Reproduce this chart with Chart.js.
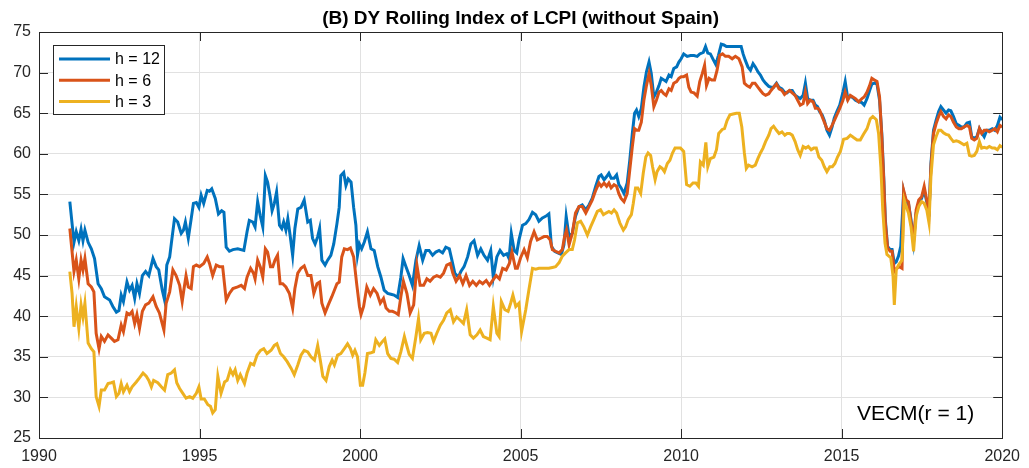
<!DOCTYPE html>
<html lang="en">
<head>
    <meta charset="UTF-8">
    <title>DY Rolling Index of LCPI</title>
    <script src="https://cdn.jsdelivr.net/npm/chart.js@4.4.1/dist/chart.umd.min.js"></script>
    <style>
        html, body { margin: 0; padding: 0; background: #ffffff; }
        #wrap { width: 1029px; height: 468px; }
    </style>
</head>
<body>
<div id="wrap"><canvas id="dy_chart" width="1029" height="468"></canvas></div>
<script>
    // values (decimal years)
    const h12Dates = [
        1990.96, 1991.09, 1991.16, 1991.24, 1991.31, 1991.37, 1991.43, 1991.53, 1991.63, 1991.73,
        1991.84, 1991.94, 1992.04, 1992.20, 1992.30, 1992.41, 1992.49, 1992.56, 1992.63, 1992.74,
        1992.82, 1992.90, 1992.98, 1993.05, 1993.13, 1993.22, 1993.32, 1993.42, 1993.55, 1993.65,
        1993.73, 1993.84, 1993.91, 1993.98, 1994.07, 1994.12, 1994.22, 1994.32, 1994.43, 1994.50,
        1994.56, 1994.65, 1994.74, 1994.81, 1994.90, 1994.98, 1995.05, 1995.13, 1995.24, 1995.31,
        1995.38, 1995.49, 1995.59, 1995.69, 1995.76, 1995.83, 1995.93, 1996.04, 1996.19, 1996.38,
        1996.48, 1996.55, 1996.66, 1996.73, 1996.81, 1996.89, 1996.97, 1997.05, 1997.12, 1997.20,
        1997.26, 1997.33, 1997.40, 1997.49, 1997.56, 1997.62, 1997.69, 1997.75, 1997.82, 1997.90,
        1997.97, 1998.06, 1998.16, 1998.26, 1998.37, 1998.45, 1998.52, 1998.60, 1998.68, 1998.74,
        1998.81, 1998.91, 1998.99, 1999.09, 1999.18, 1999.28, 1999.35, 1999.40, 1999.49, 1999.56,
        1999.63, 1999.72, 1999.80, 1999.87, 1999.92, 1999.98, 2000.05, 2000.13, 2000.23, 2000.34,
        2000.44, 2000.55, 2000.65, 2000.75, 2000.86, 2000.96, 2001.06, 2001.17, 2001.27, 2001.34,
        2001.43, 2001.53, 2001.63, 2001.74, 2001.84, 2001.95, 2002.05, 2002.15, 2002.26, 2002.36,
        2002.46, 2002.57, 2002.67, 2002.78, 2002.85, 2002.95, 2003.06, 2003.14, 2003.24, 2003.35,
        2003.45, 2003.55, 2003.66, 2003.76, 2003.86, 2003.97, 2004.07, 2004.15, 2004.26, 2004.36,
        2004.47, 2004.57, 2004.64, 2004.71, 2004.80, 2004.88, 2004.95, 2005.06, 2005.16, 2005.26,
        2005.37, 2005.47, 2005.57, 2005.68, 2005.78, 2005.88, 2005.96, 2006.06, 2006.16, 2006.27,
        2006.35, 2006.42, 2006.51, 2006.61, 2006.71, 2006.82, 2006.92, 2007.03, 2007.13, 2007.23,
        2007.34, 2007.44, 2007.51, 2007.60, 2007.68, 2007.75, 2007.82, 2007.91, 2007.99, 2008.06,
        2008.13, 2008.22, 2008.32, 2008.40, 2008.48, 2008.55, 2008.61, 2008.68, 2008.76, 2008.84,
        2008.92, 2009.00, 2009.07, 2009.15, 2009.23, 2009.31, 2009.38, 2009.46, 2009.53, 2009.62,
        2009.69, 2009.77, 2009.86, 2009.93, 2010.00, 2010.08, 2010.19, 2010.29, 2010.40, 2010.50,
        2010.58, 2010.69, 2010.76, 2010.83, 2010.91, 2011.00, 2011.08, 2011.16, 2011.25, 2011.33,
        2011.41, 2011.49, 2011.59, 2011.69, 2011.80, 2011.87, 2011.93, 2012.00, 2012.08, 2012.16,
        2012.24, 2012.31, 2012.39, 2012.47, 2012.55, 2012.63, 2012.73, 2012.80, 2012.88, 2012.97,
        2013.05, 2013.14, 2013.22, 2013.30, 2013.38, 2013.46, 2013.55, 2013.63, 2013.71, 2013.80,
        2013.87, 2013.94, 2014.02, 2014.11, 2014.18, 2014.25, 2014.31, 2014.39, 2014.46, 2014.54,
        2014.62, 2014.70, 2014.77, 2014.85, 2014.94, 2015.04, 2015.11, 2015.19, 2015.27, 2015.35,
        2015.43, 2015.53, 2015.63, 2015.70, 2015.79, 2015.87, 2015.94, 2016.02, 2016.10, 2016.18,
        2016.25, 2016.31, 2016.36, 2016.43, 2016.51, 2016.57, 2016.64, 2016.70, 2016.77, 2016.84,
        2016.93, 2017.01, 2017.08, 2017.16, 2017.24, 2017.32, 2017.40, 2017.49, 2017.57, 2017.65,
        2017.72, 2017.78, 2017.86, 2017.94, 2018.02, 2018.09, 2018.17, 2018.25, 2018.33, 2018.40,
        2018.48, 2018.57, 2018.65, 2018.73, 2018.81, 2018.90, 2018.98, 2019.05, 2019.13, 2019.21,
        2019.29, 2019.36, 2019.44, 2019.52, 2019.60, 2019.69, 2019.77, 2019.85, 2019.93, 2020.00
    ];
    const h12Values = [
        54.1, 49.1, 50.4, 49.3, 50.7, 49.3, 50.6, 49.1, 48.3, 47.1,
        44.0, 43.4, 42.4, 42.0, 41.2, 40.5, 40.7, 42.6, 41.8, 44.2,
        43.2, 43.8, 42.2, 44.0, 42.8, 45.0, 45.5, 45.0, 47.1, 46.1,
        45.7, 43.2, 42.0, 46.3, 47.3, 48.9, 52.0, 51.6, 50.2, 50.6,
        51.6, 49.6, 52.0, 53.9, 54.0, 53.4, 54.9, 53.9, 55.5, 55.4,
        55.7, 54.5, 52.6, 53.0, 52.8, 48.5, 48.0, 48.2, 48.3, 48.1,
        50.4, 51.8, 51.6, 51.0, 54.1, 52.4, 51.0, 57.3, 56.5, 54.7,
        53.0, 53.9, 55.3, 51.2, 50.8, 51.6, 50.6, 52.0, 50.0, 47.5,
        50.8, 53.2, 53.4, 54.3, 51.6, 51.8, 49.6, 48.9, 49.8, 50.8,
        46.9, 46.3, 46.9, 47.5, 48.9, 51.4, 53.4, 57.3, 57.7, 56.1,
        56.9, 56.5, 53.4, 51.2, 47.5, 48.9, 48.3, 49.1, 50.4, 48.3,
        48.1, 46.1, 44.8, 43.2, 42.8, 42.7, 42.6, 42.3, 44.8, 47.1,
        46.1, 45.0, 43.8, 46.9, 48.7, 46.9, 48.1, 48.1, 47.5, 47.9,
        48.1, 47.8, 48.5, 48.3, 47.1, 45.3, 44.8, 45.5, 46.1, 47.3,
        48.9, 49.3, 47.5, 48.3, 47.5, 46.9, 48.1, 44.8, 47.3, 48.1,
        47.5, 47.7, 47.1, 50.2, 48.1, 47.8, 49.4, 51.2, 51.4, 51.9,
        52.8, 52.5, 51.7, 52.1, 52.3, 52.6, 48.6, 48.0, 47.8, 47.6,
        48.8, 52.3, 49.8, 50.2, 52.3, 53.5, 53.7, 53.1, 53.7, 54.5,
        56.0, 57.2, 57.4, 56.8, 57.2, 57.6, 57.0, 57.0, 57.4, 56.2,
        55.8, 55.1, 56.4, 59.2, 62.5, 65.0, 65.4, 64.6, 65.6, 68.2,
        70.1, 71.3, 69.9, 67.0, 67.6, 68.4, 69.3, 69.1, 68.9, 69.7,
        69.5, 70.5, 70.7, 71.3, 71.7, 72.3, 72.0, 72.1, 72.1, 72.0,
        72.3, 72.5, 73.2, 72.4, 72.3, 71.6, 71.0, 72.1, 73.5, 73.4,
        73.2, 73.2, 73.2, 73.2, 73.2, 73.2, 72.3, 71.5, 70.7, 70.3,
        71.1, 70.7, 70.1, 69.7, 69.1, 68.7, 68.3, 68.2, 68.2, 68.7,
        68.2, 68.0, 67.6, 67.5, 67.8, 67.8, 67.2, 67.0, 66.8, 67.2,
        68.7, 66.8, 66.6, 66.6, 66.0, 65.8, 65.2, 64.8, 64.1, 62.9,
        62.3, 63.3, 64.4, 65.2, 66.0, 67.6, 68.9, 66.8, 67.1, 66.9,
        66.6, 66.4, 66.3, 66.0, 66.8, 67.8, 68.6, 68.7, 68.6, 66.6,
        62.5, 57.2, 51.9, 48.6, 48.2, 48.2, 46.5, 46.7, 47.4, 48.6,
        55.3, 53.9, 53.9, 51.9, 49.2, 52.7, 53.9, 54.5, 55.5, 54.1,
        52.3, 58.8, 62.9, 64.1, 65.2, 65.8, 65.4, 65.0, 65.4, 65.3,
        64.6, 63.7, 63.5, 63.3, 63.3, 63.8, 63.9, 62.1, 61.9, 62.1,
        63.1, 62.6, 62.1, 62.9, 62.9, 63.1, 62.9, 63.5, 64.5, 64.2
    ];

    const h6Dates = [
        1990.96, 1991.09, 1991.16, 1991.24, 1991.31, 1991.37, 1991.43, 1991.53, 1991.63, 1991.71,
        1991.78, 1991.87, 1991.94, 1992.04, 1992.15, 1992.25, 1992.35, 1992.46, 1992.56, 1992.63,
        1992.74, 1992.82, 1992.90, 1992.98, 1993.05, 1993.13, 1993.22, 1993.32, 1993.42, 1993.55,
        1993.65, 1993.75, 1993.89, 1993.96, 1994.07, 1994.17, 1994.27, 1994.38, 1994.46, 1994.51,
        1994.58, 1994.65, 1994.74, 1994.81, 1994.90, 1995.00, 1995.13, 1995.24, 1995.31, 1995.41,
        1995.52, 1995.62, 1995.72, 1995.83, 1995.93, 1996.04, 1996.19, 1996.30, 1996.40, 1996.48,
        1996.59, 1996.68, 1996.73, 1996.81, 1996.89, 1996.97, 1997.05, 1997.12, 1997.21, 1997.28,
        1997.35, 1997.43, 1997.51, 1997.59, 1997.69, 1997.80, 1997.90, 1997.97, 1998.06, 1998.16,
        1998.26, 1998.37, 1998.47, 1998.56, 1998.66, 1998.74, 1998.81, 1998.91, 1999.01, 1999.12,
        1999.20, 1999.28, 1999.35, 1999.43, 1999.51, 1999.61, 1999.70, 1999.80, 1999.90, 1999.98,
        2000.03, 2000.11, 2000.21, 2000.32, 2000.42, 2000.53, 2000.63, 2000.73, 2000.81, 2000.91,
        2001.01, 2001.12, 2001.19, 2001.27, 2001.35, 2001.46, 2001.56, 2001.67, 2001.77, 2001.87,
        2001.98, 2002.08, 2002.18, 2002.29, 2002.39, 2002.50, 2002.60, 2002.70, 2002.81, 2002.89,
        2002.99, 2003.10, 2003.20, 2003.30, 2003.41, 2003.51, 2003.62, 2003.72, 2003.82, 2003.93,
        2004.03, 2004.13, 2004.24, 2004.34, 2004.44, 2004.55, 2004.65, 2004.73, 2004.84, 2004.90,
        2005.00, 2005.11, 2005.21, 2005.31, 2005.42, 2005.52, 2005.63, 2005.73, 2005.83, 2005.92,
        2005.99, 2006.09, 2006.20, 2006.30, 2006.37, 2006.43, 2006.51, 2006.61, 2006.71, 2006.82,
        2006.92, 2007.03, 2007.13, 2007.23, 2007.34, 2007.44, 2007.51, 2007.60, 2007.68, 2007.75,
        2007.82, 2007.91, 2007.99, 2008.06, 2008.13, 2008.22, 2008.32, 2008.40, 2008.48, 2008.55,
        2008.61, 2008.68, 2008.76, 2008.84, 2008.92, 2009.00, 2009.07, 2009.15, 2009.23, 2009.31,
        2009.38, 2009.46, 2009.53, 2009.62, 2009.69, 2009.77, 2009.86, 2009.93, 2010.00, 2010.08,
        2010.17, 2010.24, 2010.31, 2010.40, 2010.50, 2010.58, 2010.66, 2010.73, 2010.79, 2010.87,
        2010.95, 2011.04, 2011.12, 2011.20, 2011.29, 2011.38, 2011.48, 2011.59, 2011.69, 2011.80,
        2011.90, 2011.97, 2012.05, 2012.14, 2012.22, 2012.30, 2012.39, 2012.47, 2012.55, 2012.63,
        2012.73, 2012.80, 2012.88, 2012.97, 2013.05, 2013.14, 2013.22, 2013.30, 2013.38, 2013.46,
        2013.55, 2013.63, 2013.71, 2013.80, 2013.87, 2013.94, 2014.02, 2014.11, 2014.18, 2014.25,
        2014.31, 2014.39, 2014.46, 2014.54, 2014.62, 2014.70, 2014.77, 2014.85, 2014.94, 2015.04,
        2015.11, 2015.19, 2015.27, 2015.35, 2015.43, 2015.53, 2015.63, 2015.70, 2015.79, 2015.87,
        2015.94, 2016.02, 2016.10, 2016.18, 2016.25, 2016.31, 2016.36, 2016.43, 2016.51, 2016.57,
        2016.64, 2016.72, 2016.80, 2016.88, 2016.93, 2017.01, 2017.08, 2017.16, 2017.24, 2017.32,
        2017.40, 2017.49, 2017.57, 2017.65, 2017.72, 2017.78, 2017.86, 2017.94, 2018.02, 2018.09,
        2018.17, 2018.25, 2018.33, 2018.40, 2018.48, 2018.57, 2018.65, 2018.73, 2018.81, 2018.90,
        2018.98, 2019.05, 2019.13, 2019.21, 2019.29, 2019.36, 2019.44, 2019.52, 2019.60, 2019.69,
        2019.77, 2019.85, 2019.93, 2020.00
    ];
    const h6Values = [
        50.8, 45.5, 46.9, 44.6, 46.9, 45.7, 47.1, 44.0, 43.6, 43.0,
        37.9, 36.0, 37.5, 36.9, 37.7, 37.3, 36.9, 37.1, 38.9, 38.1,
        40.4, 40.2, 40.6, 39.1, 40.2, 38.5, 40.6, 41.4, 41.6, 42.4,
        41.2, 40.4, 38.3, 41.6, 43.0, 45.7, 45.0, 43.8, 41.8, 43.2,
        45.0, 43.6, 43.4, 46.1, 46.3, 46.1, 46.5, 47.3, 46.5, 45.0,
        46.3, 46.1, 46.1, 42.0, 42.8, 43.4, 43.6, 43.8, 43.4, 44.8,
        45.9, 45.3, 44.6, 46.9, 46.1, 44.8, 48.3, 47.9, 46.1, 46.1,
        46.9, 47.5, 44.0, 44.0, 43.6, 42.8, 41.0, 43.4, 45.3, 45.9,
        46.2, 45.0, 45.0, 42.8, 44.0, 44.2, 41.6, 40.4, 41.4, 42.4,
        43.2, 44.0, 44.2, 47.3, 48.3, 48.2, 48.4, 47.3, 43.8, 41.2,
        40.2, 41.2, 43.6, 42.6, 43.4, 42.8, 41.6, 42.2, 41.0, 40.6,
        40.6, 40.4, 40.2, 42.4, 44.3, 42.8, 40.4, 41.4, 46.3, 43.8,
        43.8, 44.6, 44.3, 44.8, 45.0, 44.8, 45.3, 46.3, 46.5, 45.3,
        44.3, 45.0, 44.0, 45.0, 43.8, 44.3, 43.8, 44.3, 44.0, 44.4,
        43.8, 44.4, 45.0, 44.6, 45.9, 45.7, 46.5, 47.9, 45.9, 45.9,
        47.2, 48.2, 47.2, 49.2, 50.4, 49.4, 49.6, 49.8, 49.8, 49.4,
        48.2, 48.0, 47.8, 48.2, 49.8, 50.6, 48.8, 50.2, 52.7, 53.5,
        53.5, 52.7, 53.5, 54.3, 55.5, 56.4, 56.0, 56.4, 56.0, 56.4,
        55.8, 56.2, 56.0, 55.1, 54.5, 54.1, 55.1, 58.0, 60.9, 63.1,
        62.9, 62.9, 63.9, 66.6, 68.4, 69.9, 68.4, 65.8, 66.6, 67.6,
        67.8, 67.4, 67.2, 68.0, 67.8, 68.7, 68.9, 69.3, 69.5, 69.5,
        69.7, 68.2, 67.6, 67.5, 67.1, 68.9, 69.9, 70.9, 68.4, 69.3,
        69.1, 69.1, 70.3, 72.1, 72.3, 72.0, 72.0, 71.7, 72.0, 71.7,
        70.7, 68.7, 68.4, 68.2, 68.7, 68.7, 68.2, 67.8, 67.4, 67.2,
        67.4, 67.8, 68.2, 68.6, 68.0, 67.8, 67.3, 67.6, 67.8, 67.5,
        67.2, 66.6, 66.0, 66.2, 67.6, 66.2, 66.6, 66.4, 65.6, 65.6,
        65.4, 64.6, 63.9, 63.1, 62.9, 63.5, 64.1, 64.8, 65.6, 66.6,
        67.6, 66.6, 67.2, 67.0, 66.8, 66.4, 66.8, 67.0, 67.6, 68.4,
        69.3, 69.1, 68.9, 67.0, 62.1, 56.8, 51.5, 48.4, 48.0, 48.0,
        45.5, 45.9, 46.1, 45.9, 55.5, 54.3, 54.1, 51.5, 49.4, 53.1,
        54.3, 54.7, 56.0, 54.3, 52.7, 58.4, 62.5, 63.7, 64.6, 65.2,
        64.6, 64.3, 64.8, 64.6, 63.9, 63.3, 63.1, 63.1, 63.3, 63.5,
        63.3, 61.9, 61.7, 61.9, 63.1, 62.5, 62.9, 62.9, 62.7, 62.9,
        63.1, 62.7, 63.5, 63.3
    ];

    const h3Dates = [
        1990.96, 1991.03, 1991.09, 1991.16, 1991.24, 1991.31, 1991.37, 1991.43, 1991.53, 1991.63,
        1991.71, 1991.78, 1991.87, 1991.94, 1992.04, 1992.15, 1992.25, 1992.32, 1992.41, 1992.49,
        1992.56, 1992.63, 1992.74, 1992.82, 1992.90, 1993.03, 1993.13, 1993.24, 1993.34, 1993.42,
        1993.50, 1993.57, 1993.70, 1993.81, 1993.91, 1994.01, 1994.12, 1994.22, 1994.29, 1994.38,
        1994.48, 1994.58, 1994.69, 1994.79, 1994.90, 1994.98, 1995.05, 1995.15, 1995.26, 1995.34,
        1995.41, 1995.49, 1995.57, 1995.67, 1995.78, 1995.86, 1995.96, 1996.04, 1996.11, 1996.19,
        1996.27, 1996.40, 1996.48, 1996.59, 1996.69, 1996.79, 1996.90, 1997.00, 1997.10, 1997.23,
        1997.33, 1997.41, 1997.52, 1997.62, 1997.73, 1997.85, 1997.95, 1998.06, 1998.16, 1998.26,
        1998.37, 1998.47, 1998.58, 1998.68, 1998.76, 1998.84, 1998.94, 1999.04, 1999.13, 1999.20,
        1999.30, 1999.40, 1999.51, 1999.61, 1999.70, 1999.77, 1999.84, 1999.92, 2000.01, 2000.08,
        2000.15, 2000.23, 2000.34, 2000.42, 2000.49, 2000.60, 2000.70, 2000.77, 2000.86, 2000.96,
        2001.06, 2001.17, 2001.27, 2001.38, 2001.46, 2001.53, 2001.63, 2001.74, 2001.82, 2001.89,
        2002.00, 2002.10, 2002.21, 2002.29, 2002.39, 2002.50, 2002.60, 2002.70, 2002.81, 2002.91,
        2003.01, 2003.12, 2003.22, 2003.32, 2003.43, 2003.53, 2003.64, 2003.74, 2003.84, 2003.95,
        2004.05, 2004.15, 2004.26, 2004.33, 2004.40, 2004.51, 2004.61, 2004.69, 2004.76, 2004.85,
        2004.95, 2005.03, 2005.16, 2005.26, 2005.37, 2005.47, 2005.57, 2005.73, 2005.88, 2005.99,
        2006.09, 2006.20, 2006.30, 2006.40, 2006.51, 2006.61, 2006.68, 2006.77, 2006.87, 2006.97,
        2007.08, 2007.18, 2007.28, 2007.39, 2007.49, 2007.58, 2007.66, 2007.75, 2007.83, 2007.91,
        2007.99, 2008.09, 2008.20, 2008.27, 2008.35, 2008.45, 2008.51, 2008.58, 2008.65, 2008.74,
        2008.82, 2008.90, 2008.97, 2009.05, 2009.11, 2009.19, 2009.25, 2009.34, 2009.41, 2009.48,
        2009.57, 2009.65, 2009.73, 2009.81, 2009.90, 2009.98, 2010.08, 2010.17, 2010.27, 2010.37,
        2010.46, 2010.54, 2010.60, 2010.69, 2010.77, 2010.83, 2010.91, 2011.02, 2011.10, 2011.17,
        2011.28, 2011.35, 2011.43, 2011.52, 2011.62, 2011.72, 2011.81, 2011.89, 2011.97, 2012.03,
        2012.10, 2012.21, 2012.31, 2012.39, 2012.47, 2012.55, 2012.63, 2012.73, 2012.80, 2012.88,
        2012.97, 2013.05, 2013.14, 2013.23, 2013.30, 2013.38, 2013.46, 2013.55, 2013.63, 2013.71,
        2013.80, 2013.88, 2013.96, 2014.05, 2014.13, 2014.21, 2014.29, 2014.38, 2014.46, 2014.54,
        2014.63, 2014.71, 2014.79, 2014.87, 2014.96, 2015.06, 2015.17, 2015.27, 2015.37, 2015.48,
        2015.58, 2015.68, 2015.79, 2015.89, 2015.97, 2016.08, 2016.15, 2016.22, 2016.28, 2016.35,
        2016.41, 2016.47, 2016.53, 2016.60, 2016.64, 2016.70, 2016.77, 2016.88, 2016.95, 2017.01,
        2017.08, 2017.16, 2017.24, 2017.32, 2017.40, 2017.49, 2017.57, 2017.65, 2017.72, 2017.78,
        2017.86, 2017.94, 2018.02, 2018.09, 2018.17, 2018.25, 2018.33, 2018.40, 2018.48, 2018.57,
        2018.65, 2018.73, 2018.81, 2018.90, 2018.98, 2019.05, 2019.13, 2019.21, 2019.29, 2019.36,
        2019.44, 2019.52, 2019.60, 2019.69, 2019.77, 2019.85, 2019.93, 2020.00
    ];
    const h3Values = [
        45.5, 42.8, 38.7, 41.2, 38.5, 41.4, 39.9, 41.6, 36.7, 36.0,
        35.6, 30.1, 28.9, 30.9, 30.9, 31.7, 31.8, 31.9, 30.1, 30.5,
        31.7, 30.7, 31.5, 30.7, 31.3, 31.9, 32.4, 33.0, 32.6, 32.1,
        31.3, 32.1, 31.8, 31.3, 30.9, 32.8, 33.0, 33.4, 31.8, 31.1,
        30.5, 29.9, 30.1, 29.9, 30.5, 31.3, 29.8, 29.8, 29.1, 28.9,
        28.1, 28.5, 32.6, 30.5, 31.9, 32.1, 33.4, 32.8, 33.4, 32.1,
        32.8, 31.7, 33.0, 34.2, 34.0, 35.2, 35.8, 36.0, 35.4, 35.8,
        36.4, 36.6, 35.4, 35.0, 34.4, 33.6, 32.8, 34.0, 35.2, 35.8,
        35.6, 35.0, 34.6, 36.4, 34.6, 32.6, 32.1, 33.8, 34.6, 34.0,
        35.2, 35.4, 36.0, 36.6, 36.0, 35.2, 35.8, 35.0, 31.5, 31.5,
        33.0, 35.4, 35.5, 35.6, 37.1, 36.4, 36.9, 37.2, 35.4, 34.8,
        34.7, 34.3, 35.6, 37.5, 36.3, 35.3, 34.8, 37.5, 39.7, 37.1,
        37.9, 38.0, 37.9, 36.9, 37.9, 38.9, 39.5, 40.4, 40.8, 39.3,
        39.9, 39.5, 39.1, 40.8, 37.7, 37.3, 37.7, 38.3, 37.5, 37.3,
        37.1, 41.2, 37.9, 37.5, 41.8, 40.8, 40.6, 41.6, 42.6, 41.2,
        41.6, 38.1, 40.8, 43.3, 45.9, 45.8, 45.9, 45.9, 45.9, 46.0,
        46.1, 46.6, 47.4, 47.8, 48.2, 48.2, 49.4, 51.5, 51.7, 51.0,
        50.0, 51.0, 51.9, 52.9, 53.1, 52.5, 52.7, 52.9, 52.7, 53.1,
        52.7, 51.5, 50.6, 51.0, 51.9, 52.5, 53.9, 55.8, 55.8, 55.1,
        57.6, 59.6, 60.1, 59.8, 58.4, 56.8, 57.8, 58.4, 58.2, 57.8,
        58.8, 59.2, 60.1, 60.7, 60.7, 60.7, 60.3, 56.2, 56.0, 56.4,
        56.4, 56.0, 59.0, 58.6, 61.4, 58.4, 59.4, 59.6, 60.5, 62.5,
        63.0, 63.1, 64.1, 64.8, 64.9, 65.0, 65.0, 63.3, 60.1, 58.2,
        58.6, 58.4, 58.6, 59.4, 60.1, 60.7, 61.5, 62.3, 63.1, 63.4,
        62.9, 62.5, 62.7, 62.3, 62.5, 62.5, 62.3, 61.5, 60.5, 59.8,
        60.9, 60.7, 60.9, 60.5, 60.7, 60.7, 59.6, 59.2, 58.4, 57.8,
        58.4, 58.4, 58.8, 59.6, 60.3, 61.8, 61.9, 62.3, 62.0, 61.7,
        61.7, 62.4, 63.1, 64.3, 64.6, 64.2, 62.5, 58.4, 53.1, 49.0,
        47.6, 47.4, 47.2, 44.9, 41.4, 45.7, 46.3, 46.9, 54.3, 53.5,
        52.7, 51.0, 48.0, 52.3, 53.5, 54.1, 53.9, 53.1, 51.5, 57.2,
        61.1, 62.1, 62.9, 62.9, 62.6, 62.4, 62.3, 61.9, 61.5, 61.6,
        61.5, 61.3, 61.1, 61.3, 59.8, 59.7, 59.8, 60.3, 61.5, 60.7,
        60.8, 60.7, 60.9, 60.7, 60.7, 60.5, 61.0, 60.8
    ];

    const xTicks = [1990, 1995, 2000, 2005, 2010, 2015, 2020];
    const yTicks = [25, 30, 35, 40, 45, 50, 55, 60, 65, 70, 75];

    const seriesLabels = ['h = 12', 'h = 6', 'h = 3'];
    const seriesColors = ['#0072BD', '#D95319', '#EDB120'];
    const titleText = '(B) DY Rolling Index of LCPI (without Spain)';
    const noteText = 'VECM(r = 1)';

    const AXIS_COLOR = '#262626';
    const GRID_COLOR = '#e1e1e1';
    const FONT = '"Liberation Sans", Arial, Helvetica, sans-serif';
    const TICK_LEN = 9;

    function toPoints(dates, values) {
        return dates.map((d, i) => ({x: d, y: values[i]}));
    }

    // box, inward ticks, title, legend and the note, drawn the way matlab does it
    const matlabFrame = {
        id: 'matlabFrame',
        afterDatasetsDraw(chart) {
            const ctx = chart.ctx;
            const a = chart.chartArea;
            const xs = chart.scales.x;
            const ys = chart.scales.y;
            ctx.save();

            ctx.strokeStyle = AXIS_COLOR;
            ctx.lineWidth = 1;
            ctx.beginPath();
            xs.ticks.forEach(t => {
                const px = Math.round(xs.getPixelForValue(t.value)) + 0.5;
                ctx.moveTo(px, a.bottom);
                ctx.lineTo(px, a.bottom - TICK_LEN);
                ctx.moveTo(px, a.top);
                ctx.lineTo(px, a.top + TICK_LEN);
            });
            ys.ticks.forEach(t => {
                const py = Math.round(ys.getPixelForValue(t.value)) + 0.5;
                ctx.moveTo(a.left, py);
                ctx.lineTo(a.left + TICK_LEN, py);
                ctx.moveTo(a.right, py);
                ctx.lineTo(a.right - TICK_LEN, py);
            });
            ctx.stroke();
            ctx.strokeRect(Math.round(a.left) + 0.5, Math.round(a.top) + 0.5,
                Math.round(a.right - a.left), Math.round(a.bottom - a.top));

            // title
            ctx.fillStyle = '#000000';
            ctx.font = 'bold 19px ' + FONT;
            ctx.textAlign = 'center';
            ctx.textBaseline = 'middle';
            ctx.fillText(titleText, (a.left + a.right) / 2, 19);

            // legend box in the upper left corner
            const lx = a.left + 14, ly = a.top + 13, lw = 111, lh = 69;
            ctx.fillStyle = '#ffffff';
            ctx.fillRect(lx, ly, lw, lh);
            ctx.strokeStyle = AXIS_COLOR;
            ctx.lineWidth = 1;
            ctx.strokeRect(lx + 0.5, ly + 0.5, lw, lh);
            ctx.font = '16px ' + FONT;
            ctx.textAlign = 'left';
            seriesLabels.forEach((label, i) => {
                const rowY = ly + 14 + i * 21.3;
                ctx.strokeStyle = seriesColors[i];
                ctx.lineWidth = 3;
                ctx.beginPath();
                ctx.moveTo(lx + 6, rowY);
                ctx.lineTo(lx + 57, rowY);
                ctx.stroke();
                ctx.fillStyle = '#000000';
                ctx.fillText(label, lx + 62, rowY + 1);
            });

            // note in the lower right corner
            ctx.font = '21px ' + FONT;
            ctx.textAlign = 'right';
            ctx.fillStyle = '#000000';
            ctx.fillText(noteText, a.right - 28, a.bottom - 24);

            ctx.restore();
        }
    };

    const datasets = [
        {label: seriesLabels[0], data: toPoints(h12Dates, h12Values), borderColor: seriesColors[0], order: 3},
        {label: seriesLabels[1], data: toPoints(h6Dates, h6Values), borderColor: seriesColors[1], order: 2},
        {label: seriesLabels[2], data: toPoints(h3Dates, h3Values), borderColor: seriesColors[2], order: 1}
    ].map(d => Object.assign(d, {borderWidth: 3, pointRadius: 0, fill: false, tension: 0}));

    const chart = new Chart(document.getElementById('dy_chart'), {
        type: 'line',
        data: {datasets: datasets},
        options: {
            responsive: false,
            animation: false,
            events: [],
            layout: {padding: {top: 32, right: 24, left: 0, bottom: 0}},
            plugins: {
                legend: {display: false},
                tooltip: {enabled: false},
                title: {display: false}
            },
            scales: {
                x: {
                    type: 'linear',
                    min: 1990,
                    max: 2020,
                    afterBuildTicks: scale => { scale.ticks = xTicks.map(v => ({value: v})); },
                    afterFit: scale => { scale.height = 30; },
                    grid: {color: GRID_COLOR, drawTicks: false},
                    border: {display: false},
                    ticks: {
                        autoSkip: false,
                        maxRotation: 0,
                        padding: 9,
                        color: AXIS_COLOR,
                        font: {family: FONT, size: 16},
                        callback: v => String(v)
                    }
                },
                y: {
                    min: 25,
                    max: 75,
                    afterBuildTicks: scale => { scale.ticks = yTicks.map(v => ({value: v})); },
                    afterFit: scale => { scale.width = 39; },
                    grid: {color: GRID_COLOR, drawTicks: false},
                    border: {display: false},
                    ticks: {
                        padding: 8,
                        color: AXIS_COLOR,
                        font: {family: FONT, size: 16},
                        callback: v => String(v)
                    }
                }
            }
        },
        plugins: [matlabFrame]
    });
</script>
</body>
</html>
